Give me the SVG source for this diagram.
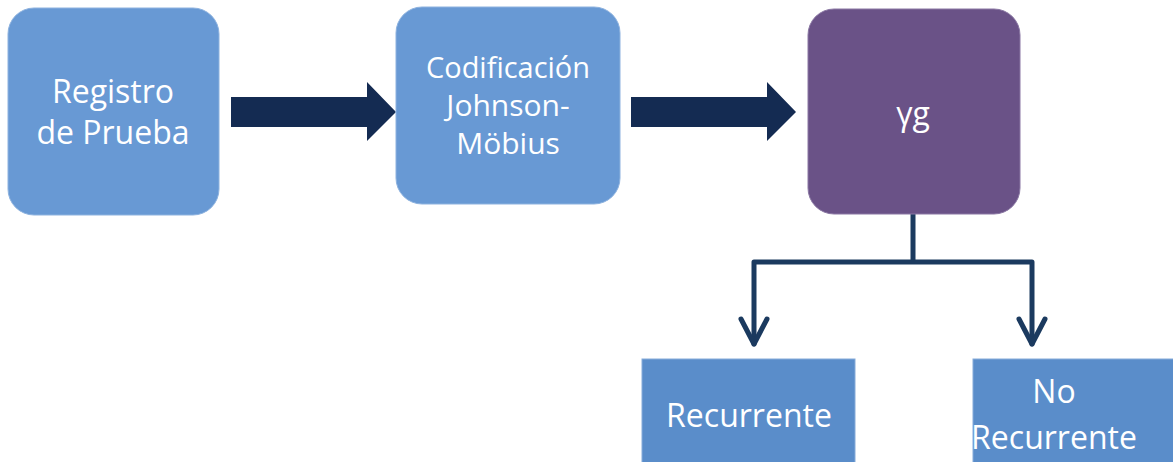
<svg xmlns="http://www.w3.org/2000/svg" width="1173" height="462" viewBox="0 0 1173 462">
<style>
.t{font-family:"Open Sans","Noto Sans",sans-serif;font-size:32px;fill:#ffffff;text-anchor:middle}
.m{font-size:30px}
.b{fill:#6899D4;stroke:#8DB2DF;stroke-width:1}
.p{fill:#6A5287;stroke:#8A77A3;stroke-width:1}
.s{fill:#5A8DCA;stroke:#86ABD9;stroke-width:1}
.c{fill:none;stroke:#1B3A5F;stroke-width:5;stroke-linecap:round;stroke-linejoin:round}
</style>
<rect width="1173" height="462" fill="#ffffff"/>
<g id="connectors">
<path d="M231 97H367V82L396 112L367 141V127H231Z" fill="#142B52"/>
<path d="M631 97H767V82L796 112L767 141V127H631Z" fill="#142B52"/>
<path class="c" d="M913 214V262M754 262H1032M754 262V344M1032 262V344"/>
<path class="c" d="M741 319L754 344L767 319M1019 319L1032 344L1045 319"/>
</g>
<g id="registro">
<rect class="b" x="8" y="8" width="211" height="207" rx="26"/>
<text class="t" x="113" y="103">Registro</text>
<text class="t" x="113" y="144">de Prueba</text>
</g>
<g id="codificacion">
<rect class="b" x="396" y="7" width="224" height="197" rx="26"/>
<text class="t m" x="508" y="78" textLength="164" lengthAdjust="spacingAndGlyphs">Codificación</text>
<text class="t m" x="508" y="116">Johnson-</text>
<text class="t m" x="508" y="154">Möbius</text>
</g>
<g id="gamma">
<rect class="p" x="808" y="9" width="212" height="205" rx="26"/>
<text class="t" x="913" y="125">γg</text>
</g>
<g id="recurrente">
<rect class="s" x="642" y="359" width="213" height="110"/>
<text class="t" x="749" y="427">Recurrente</text>
</g>
<g id="norecurrente">
<rect class="s" x="973" y="359" width="210" height="110"/>
<text class="t" x="1054" y="403">No</text>
<text class="t" x="1054" y="449">Recurrente</text>
</g>
</svg>
